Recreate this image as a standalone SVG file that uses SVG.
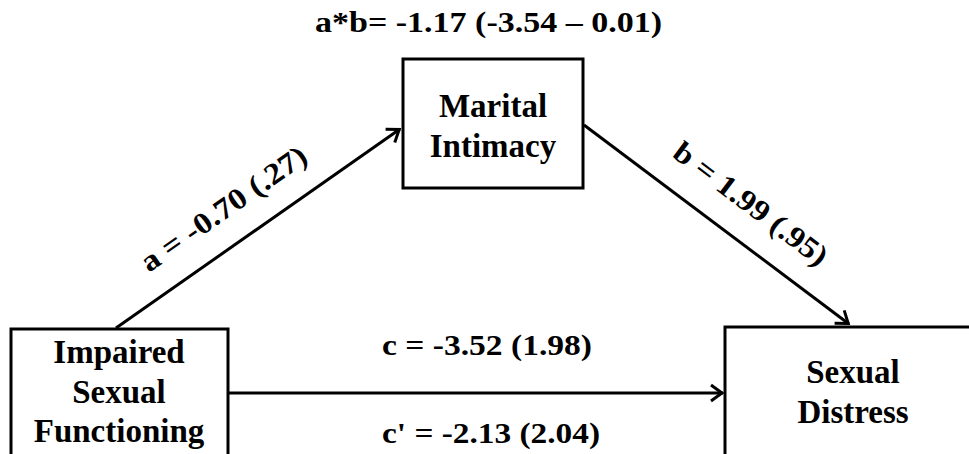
<svg xmlns="http://www.w3.org/2000/svg" width="969" height="454" viewBox="0 0 969 454">
<style>
.box{fill:#fff;stroke:#000;stroke-width:3}
.nt{font-family:"Liberation Serif","Times New Roman",serif;font-weight:bold;font-size:33px;fill:#000;text-anchor:middle}
.lb{font-family:"Liberation Serif","Times New Roman",serif;font-weight:bold;font-size:30px;fill:#000}
.edge{stroke:#000;stroke-width:3;fill:none;marker-end:url(#arr)}
</style>
<defs>
<marker id="arr" markerUnits="userSpaceOnUse" viewBox="-16 -12 20 24" refX="0" refY="0" markerWidth="20" markerHeight="24" orient="auto">
<path d="M-12,-8 L-1,0 L-12,8" fill="none" stroke="#000" stroke-width="3"/>
</marker>
</defs>
<rect width="969" height="454" fill="#fff"/>
<g id="connectors">
<line class="edge" x1="116" y1="328" x2="400" y2="129"/>
<line class="edge" x1="584" y1="125" x2="849" y2="324"/>
<line class="edge" x1="228" y1="393" x2="723" y2="393"/>
</g>
<g id="node-isf">
<rect class="box" x="11" y="329" width="217" height="140"/>
<text class="nt" x="119" y="363">Impaired</text>
<text class="nt" x="119" y="403">Sexual</text>
<text class="nt" x="119" y="442">Functioning</text>
</g>
<g id="node-mi">
<rect class="box" x="403" y="59" width="180" height="129"/>
<text class="nt" x="493" y="117">Marital</text>
<text class="nt" x="493" y="157">Intimacy</text>
</g>
<g id="node-sd">
<rect class="box" x="725" y="327" width="260" height="140"/>
<text class="nt" x="853" y="383">Sexual</text>
<text class="nt" x="853" y="423">Distress</text>
</g>
<g id="labels">
<text class="lb" x="315" y="32" textLength="347" lengthAdjust="spacingAndGlyphs">a*b= -1.17 (-3.54 – 0.01)</text>
<text class="lb" x="382" y="355" textLength="210" lengthAdjust="spacingAndGlyphs">c = -3.52 (1.98)</text>
<text class="lb" x="382" y="443" textLength="218" lengthAdjust="spacingAndGlyphs">c' = -2.13 (2.04)</text>
<text class="lb" transform="translate(149,273) rotate(-35)" textLength="196" lengthAdjust="spacingAndGlyphs">a = -0.70 (.27)</text>
<text class="lb" transform="translate(671,156) rotate(37)" textLength="185" lengthAdjust="spacingAndGlyphs">b = 1.99 (.95)</text>
</g>
</svg>
